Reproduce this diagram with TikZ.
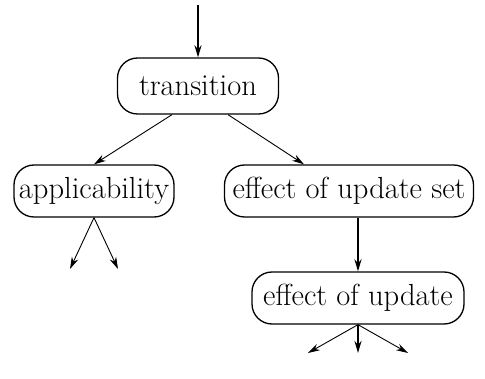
\documentclass[tikz,border=0pt]{standalone}
\usepackage{tikz}
\usetikzlibrary{arrows.meta, positioning}

\begin{document}
\begin{tikzpicture}[
    x=1pt, y=-1pt,
    stage/.style={draw, rounded corners=20pt, line width=1.3pt, inner sep=0pt,
                  minimum height=52pt, font=\fontsize{30.5}{34}\selectfont},
    arrow/.style={-{Stealth[length=12pt, width=7pt]}, line width=0.9pt},
    tarrow/.style={-{Stealth[length=12pt, width=7pt]}, line width=2pt},
]
\useasboundingbox (0,0) rectangle (485,379);

\node[stage, minimum width=161pt, minimum height=56pt] (trans) at (198,86) {transition};
\node[stage, minimum width=160pt] (appl) at (94,191) {applicability};
\node[stage, minimum width=249pt] (effset) at (349,191) {effect of update set};
\node[stage, minimum width=212pt] (eff) at (358,298) {effect of update};

\coordinate (entry) at (198,5);
\coordinate (a1) at (70,269);
\coordinate (a2) at (118,269);
\coordinate (e1) at (308,353);
\coordinate (e2) at (358,353);
\coordinate (e3) at (408,353);

\draw[tarrow] (entry) -- (trans);
\draw[arrow] (trans.south) ++(-26,0) coordinate (tl) (tl) -- (appl.north);
\draw[arrow] (trans.south) ++(30,0) coordinate (tr) (tr) -- ([xshift=-45pt]effset.north);
\draw[tarrow] (effset.south -| eff.north) -- (eff.north);
\draw[arrow] (appl.south) -- (a1);
\draw[arrow] (appl.south) -- (a2);
\draw[arrow] (eff.south) -- (e1);
\draw[tarrow] (eff.south) -- (e2);
\draw[arrow] (eff.south) -- (e3);
\end{tikzpicture}
\end{document}
